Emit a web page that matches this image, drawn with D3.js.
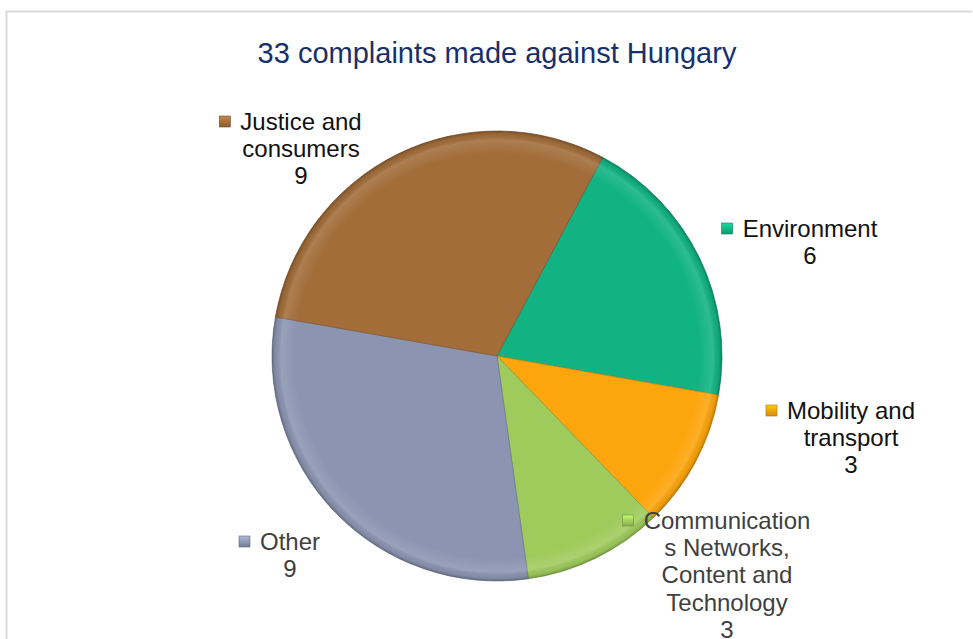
<!DOCTYPE html>
<html>
<head>
<meta charset="utf-8">
<script src="https://cdn.jsdelivr.net/npm/d3@7"></script>
<style>
  body { margin: 0; background: #fff; }
  svg { display: block; font-family: "Liberation Sans", Arial, sans-serif; }
</style>
</head>
<body>
<div id="chart"></div>
<script>
// chart data, in drawing order (clockwise from the Justice/Environment boundary)
const TITLE = "33 complaints made against Hungary"
const categories = ["Environment", "Mobility and transport", "Communications Networks, Content and Technology", "Other", "Justice and consumers"]
const values = [6, 3, 3, 9, 9]
// label text as Excel wrapped it
const labelLines = [
    ["Environment"],
    ["Mobility and", "transport"],
    ["Communication", "s Networks,", "Content and", "Technology"],
    ["Other"],
    ["Justice and", "consumers"]
]
const colors = ["#11b383", "#fda50c", "#9fcb5c", "#8b95b1", "#a26d39"]

draw()

function draw() {
    const width = 973, height = 639
    const cx = 497, cy = 356, radius = 225
    // where each label block sits (centre x, first baseline y) - layout only
    const labelAt = [[810, 237], [851, 419], [727, 529], [290, 550], [301, 130]]
    const textColor = ["#111", "#111", "#3f3f3f", "#3f3f3f", "#111"]
    const lineH = 27.2

    const svg = d3.select("#chart").append("svg")
        .attr("width", width)
        .attr("height", height)

    // frame of the chart area
    svg.append("path")
        .attr("d", "M6.5,639 V11.5 H972")
        .attr("fill", "none")
        .attr("stroke", "#d9d9d9")
        .attr("stroke-width", 2)

    svg.append("text")
        .attr("x", cx)
        .attr("y", 63)
        .attr("text-anchor", "middle")
        .attr("font-size", 29)
        .attr("fill", "#17306b")
        .text(TITLE)

    const defs = svg.append("defs")
    // soft bevel: light rim then a dark edge (centred on the pie group origin)
    const bevel = defs.append("radialGradient")
        .attr("id", "bevel")
        .attr("gradientUnits", "userSpaceOnUse")
        .attr("cx", 0).attr("cy", 0).attr("r", radius)
    bevel.append("stop").attr("offset", "0").attr("stop-color", "#fff").attr("stop-opacity", 0)
    bevel.append("stop").attr("offset", "0.9").attr("stop-color", "#fff").attr("stop-opacity", 0)
    bevel.append("stop").attr("offset", "0.96").attr("stop-color", "#fff").attr("stop-opacity", 0.12)
    bevel.append("stop").attr("offset", "0.985").attr("stop-color", "#000").attr("stop-opacity", 0.05)
    bevel.append("stop").attr("offset", "1").attr("stop-color", "#000").attr("stop-opacity", 0.25)

    const markerGrad = defs.selectAll(".mg")
        .data(colors)
        .enter()
        .append("linearGradient")
        .attr("id", (d, i) => "mk" + i)
        .attr("x1", 0).attr("y1", 0).attr("x2", 0).attr("y2", 1)
    markerGrad.append("stop").attr("offset", 0).attr("stop-color", d => d3.color(d).brighter(0.6))
    markerGrad.append("stop").attr("offset", 1).attr("stop-color", d => d3.color(d).darker(0.5))

    const start = 28 * Math.PI / 180
    const pie = d3.pie().sort(null).value(d => d).startAngle(start).endAngle(start + 2 * Math.PI)
    const arc = d3.arc().innerRadius(0).outerRadius(radius)
    const arcs = pie(values)

    const g = svg.append("g").attr("transform", `translate(${cx},${cy})`)

    g.selectAll("path.slice")
        .data(arcs)
        .enter()
        .append("path")
        .attr("class", "slice")
        .attr("d", arc)
        .attr("fill", (d, i) => colors[i])
        .attr("stroke", (d, i) => d3.color(colors[i]).darker(0.7))
        .attr("stroke-width", 0.7)
        .attr("stroke-linejoin", "round")

    g.selectAll("path.bevel")
        .data(arcs)
        .enter()
        .append("path")
        .attr("class", "bevel")
        .attr("d", arc)
        .attr("fill", "url(#bevel)")
        .attr("pointer-events", "none")

    // data labels: category lines, then the value, with a legend key before the first line
    const labels = svg.selectAll("g.label")
        .data(arcs)
        .enter()
        .append("g")
        .attr("class", "label")

    labels.each(function (d, i) {
        const sel = d3.select(this)
        const [lx, ly] = labelAt[i]
        const lines = labelLines[i].concat([String(d.data)])
        const t = sel.append("text")
            .attr("text-anchor", "middle")
            .attr("font-size", 24)
            .attr("fill", textColor[i])
        lines.forEach((line, k) => {
            t.append("tspan")
                .attr("x", lx)
                .attr("y", ly + k * lineH)
                .text(line)
        })
        // key sits just left of the first line
        const w = t.select("tspan").node().getComputedTextLength()
        const kx = lx - w / 2 - 21
        sel.append("rect")
            .attr("x", kx)
            .attr("y", ly - 14)
            .attr("width", 11)
            .attr("height", 11)
            .attr("fill", `url(#mk${i})`)
            .attr("stroke", d3.color(colors[i]).darker(1))
            .attr("stroke-width", 0.6)
    })
}
</script>
</body>
</html>
